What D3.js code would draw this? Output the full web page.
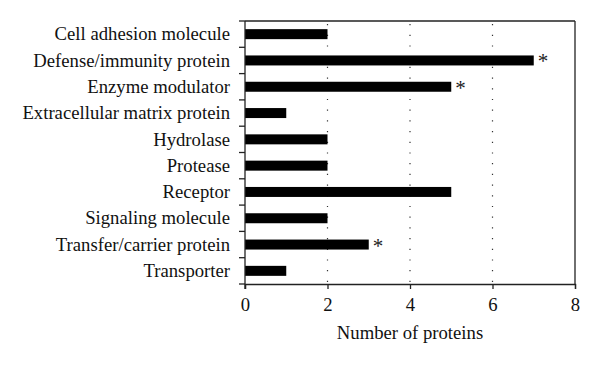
<!DOCTYPE html>
<html><head><meta charset="utf-8">
<script src="https://cdn.jsdelivr.net/npm/d3@7"></script>
<style>body{margin:0;background:#fff}svg{display:block}</style>
</head><body><svg id="c" width="600" height="367"></svg>
<script>
const categories = ["Cell adhesion molecule","Defense/immunity protein","Enzyme modulator","Extracellular matrix protein","Hydrolase","Protease","Receptor","Signaling molecule","Transfer/carrier protein","Transporter"];
const values = [2,7,5,1,2,2,5,2,3,1];
const significant = [false,true,true,false,false,false,false,false,true,false];
const xTicks = [0,2,4,6,8];
const xTitle = "Number of proteins";

const svg = d3.select("#c");
const font = "'Liberation Serif', serif";
const fs = 18.7;
const m = {l:245, r:575, t:21, b:284};
const x = d3.scaleLinear().domain([0,8]).range([m.l, m.r]);
const y = d3.scaleBand().domain(categories).range([m.t, m.b]).paddingInner(0.62).paddingOuter(0.31);
const step = y.step();

// gridlines
svg.selectAll(".grid").data([2,4,6]).enter().append("line")
  .attr("x1", d=>x(d)).attr("x2", d=>x(d)).attr("y1", m.t+3).attr("y2", m.b)
  .attr("stroke","#333").attr("stroke-width",1.2).attr("stroke-dasharray","1.2,9.5");

// frame top and right
svg.append("line").attr("x1",m.l).attr("x2",m.r).attr("y1",m.t).attr("y2",m.t).attr("stroke","#222").attr("stroke-width",1.3);
svg.append("line").attr("x1",m.r).attr("x2",m.r).attr("y1",m.t).attr("y2",m.b).attr("stroke","#222").attr("stroke-width",1.3);

// bars
svg.selectAll(".bar").data(categories).enter().append("rect")
  .attr("x", x(0)).attr("y", d=>y(d)).attr("width", (d,i)=>x(values[i])-x(0)).attr("height", y.bandwidth())
  .attr("fill","#000");

// asterisks
svg.selectAll(".star").data(categories.filter((d,i)=>significant[i])).enter().append("text")
  .attr("x", d=>x(values[categories.indexOf(d)])+4).attr("y", d=>y(d)+y.bandwidth()/2+8)
  .attr("font-family", font).attr("font-size", 21).attr("fill","#222").text("*");

// x axis
const xAxis = d3.axisBottom(x).tickValues(xTicks).tickSize(5).tickFormat(d3.format("d"));
const gx = svg.append("g").attr("transform",`translate(0,${m.b})`).call(xAxis);
gx.select(".domain").attr("stroke","#222").attr("stroke-width",1.3);
gx.selectAll(".tick line").attr("stroke","#222").attr("stroke-width",1.3);
gx.selectAll(".tick text").attr("font-family",font).attr("font-size",fs).attr("fill","#111").attr("dy","1.0em");

// y axis: ticks between categories
const gy = svg.append("g");
gy.append("line").attr("x1",m.l).attr("x2",m.l).attr("y1",m.t).attr("y2",m.b+5).attr("stroke","#222").attr("stroke-width",1.3);
const bounds = d3.range(0, categories.length+1).map(i=>m.t + i*step);
gy.selectAll(".yt").data(bounds).enter().append("line")
  .attr("x1",m.l-6).attr("x2",m.l).attr("y1",d=>d).attr("y2",d=>d).attr("stroke","#222").attr("stroke-width",1.3);
gy.selectAll(".yl").data(categories).enter().append("text")
  .attr("x", 230).attr("y", d=>y(d)+y.bandwidth()/2).attr("dy","0.33em").attr("text-anchor","end")
  .attr("font-family",font).attr("font-size",fs).attr("fill","#111").text(d=>d);

svg.append("text").attr("x",(m.l+m.r)/2).attr("y",339).attr("text-anchor","middle")
  .attr("font-family",font).attr("font-size",fs).attr("fill","#111").text(xTitle);
</script></body></html>
